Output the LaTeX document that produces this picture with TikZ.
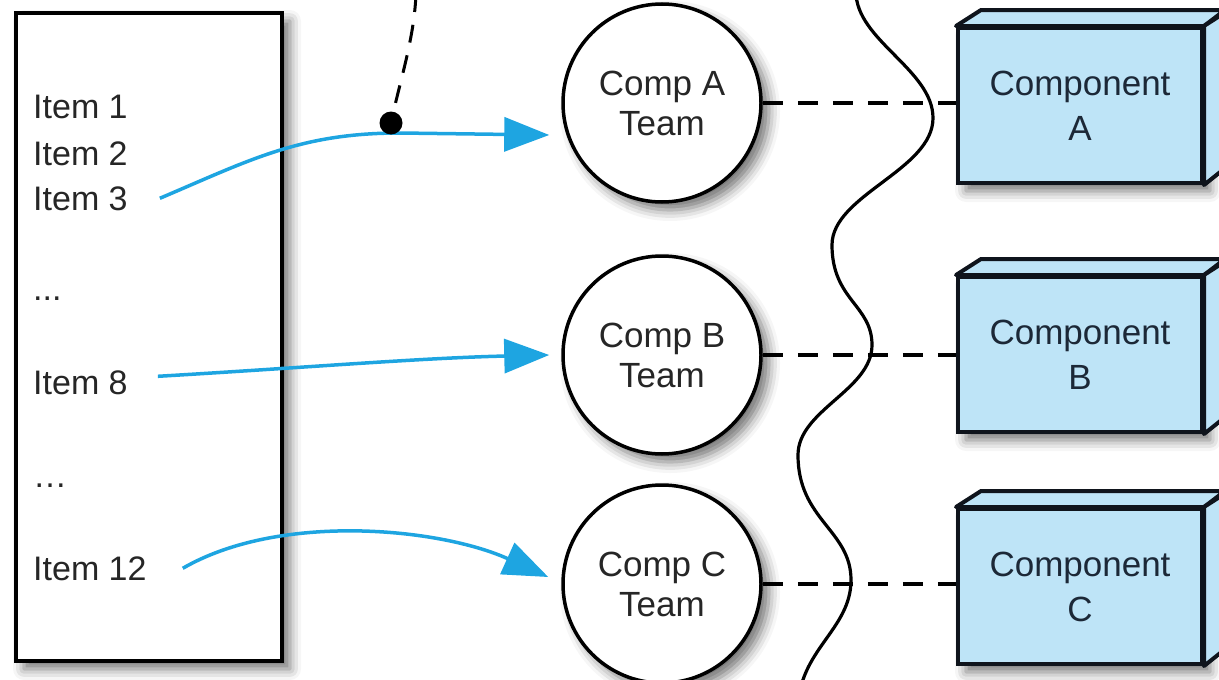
\documentclass[tikz,border=0pt]{standalone}
\usepackage{fontspec}
\setmainfont{Liberation Sans}
\usetikzlibrary{arrows.meta,shadows.blur}

\definecolor{flowblue}{RGB}{30,165,225}
\definecolor{compfill}{RGB}{190,228,247}
\definecolor{comptext}{RGB}{28,40,55}
\definecolor{inkline}{RGB}{15,20,28}

\begin{document}
\begin{tikzpicture}[x=1pt,y=-1pt,
  softshadow/.style={blur shadow={shadow xshift=8pt,shadow yshift=-8pt,shadow blur radius=11pt,shadow opacity=55}},
  listbox/.style={draw=black,line width=4pt,fill=white,minimum width=266pt,minimum height=648pt,inner sep=0pt,softshadow},
  itemtext/.style={anchor=base west,font=\fontsize{34}{40}\selectfont,text=black!85,inner sep=0pt},
  team/.style={circle,draw=black,line width=3.5pt,fill=white,minimum size=198pt,inner sep=0pt,align=center,font=\fontsize{35}{40}\selectfont,text=black!85,softshadow},
  compfront/.style={draw=inkline,line width=4pt,fill=compfill,minimum width=244pt,minimum height=155pt,inner sep=0pt,align=center,font=\fontsize{35}{45}\selectfont,text=comptext,softshadow},
  compside/.style={draw=inkline,line width=4pt,fill=compfill,line join=round},
  flow/.style={draw=flowblue,line width=3.5pt,-{Triangle[length=45pt,width=34pt]}},
  tie/.style={draw=black,line width=4pt,dash pattern=on 20pt off 15pt},
  pinline/.style={draw=black,line width=3pt,dash pattern=on 18pt off 13pt},
  pindot/.style={circle,fill=black,minimum size=23pt,inner sep=0pt},
  wave/.style={draw=black,line width=3.2pt},
]
\useasboundingbox (0,0) rectangle (1219,680);
\clip (0,0) rectangle (1219,680);

% backlog list
\node[listbox] (list) at (149,337) {};
\node[itemtext] (it1) at (33,118) {Item 1};
\node[itemtext] (it2) at (33,165) {Item 2};
\node[itemtext] (it3) at (33,210) {Item 3};
\node[itemtext] (dots1) at (33,300) {...};
\node[itemtext] (it8) at (33,394) {Item 8};
\node[itemtext] (dots2) at (33,487) {\ldots};
\node[itemtext] (it12) at (33,580) {Item 12};

% component teams
\node[team] (tA) at (662,103) {Comp A\\Team};
\node[team] (tB) at (662,355) {Comp B\\Team};
\node[team] (tC) at (662,584) {Comp C\\Team};

% components drawn as boxes
\foreach \nm/\lbl/\yy in {cA/A/105.5, cB/B/354.5, cC/C/586.5}{
  \node[compfront] (\nm) at (1080,\yy) {Component\\\lbl};
  \draw[compside] (\nm.north west) -- ++(25,-16) -- ++(244,0) -- (\nm.north east) -- cycle;
  \draw[compside] (\nm.north east) -- ++(25,-16) -- ++(0,155) -- (\nm.south east) -- cycle;
}

% boundary between teams and components
\draw[wave] (856,-8)
  .. controls (856,40) and (933,70) .. (933,118)
  .. controls (933,170) and (832,195) .. (832,245)
  .. controls (832,300) and (872,305) .. (872,345)
  .. controls (872,390) and (798,410) .. (798,455)
  .. controls (798,520) and (851,530) .. (851,580)
  .. controls (851,630) and (798,650) .. (798,710);

% team to component links
\draw[tie] (tA.east) -- (cA.west |- tA.east);
\draw[tie] (tB.east) -- (cB.west |- tB.east);
\draw[tie] (tC.east) -- (cC.west |- tC.east);

% item assignment
\draw[flow] ([xshift=32pt]it3.east) .. controls (250,160) and (300,133) .. (400,133)
  -- ([xshift=-12pt,yshift=-32pt]tA.west);
\draw[flow] ([xshift=30pt,yshift=6pt]it8.east) .. controls (300,368) and (420,358) .. ([xshift=-12pt]tB.west);
\draw[flow] ([xshift=36pt]it12.east) .. controls (280,512) and (440,528) .. ([xshift=-13pt,yshift=7pt]tC.west);

% pinned item
\coordinate (pintop) at (416,-6);
\node[pindot] (pin) at (391,123) {};
\draw[pinline] (pintop) .. controls (414,40) and (400,80) .. (pin.center);
\end{tikzpicture}
\end{document}
